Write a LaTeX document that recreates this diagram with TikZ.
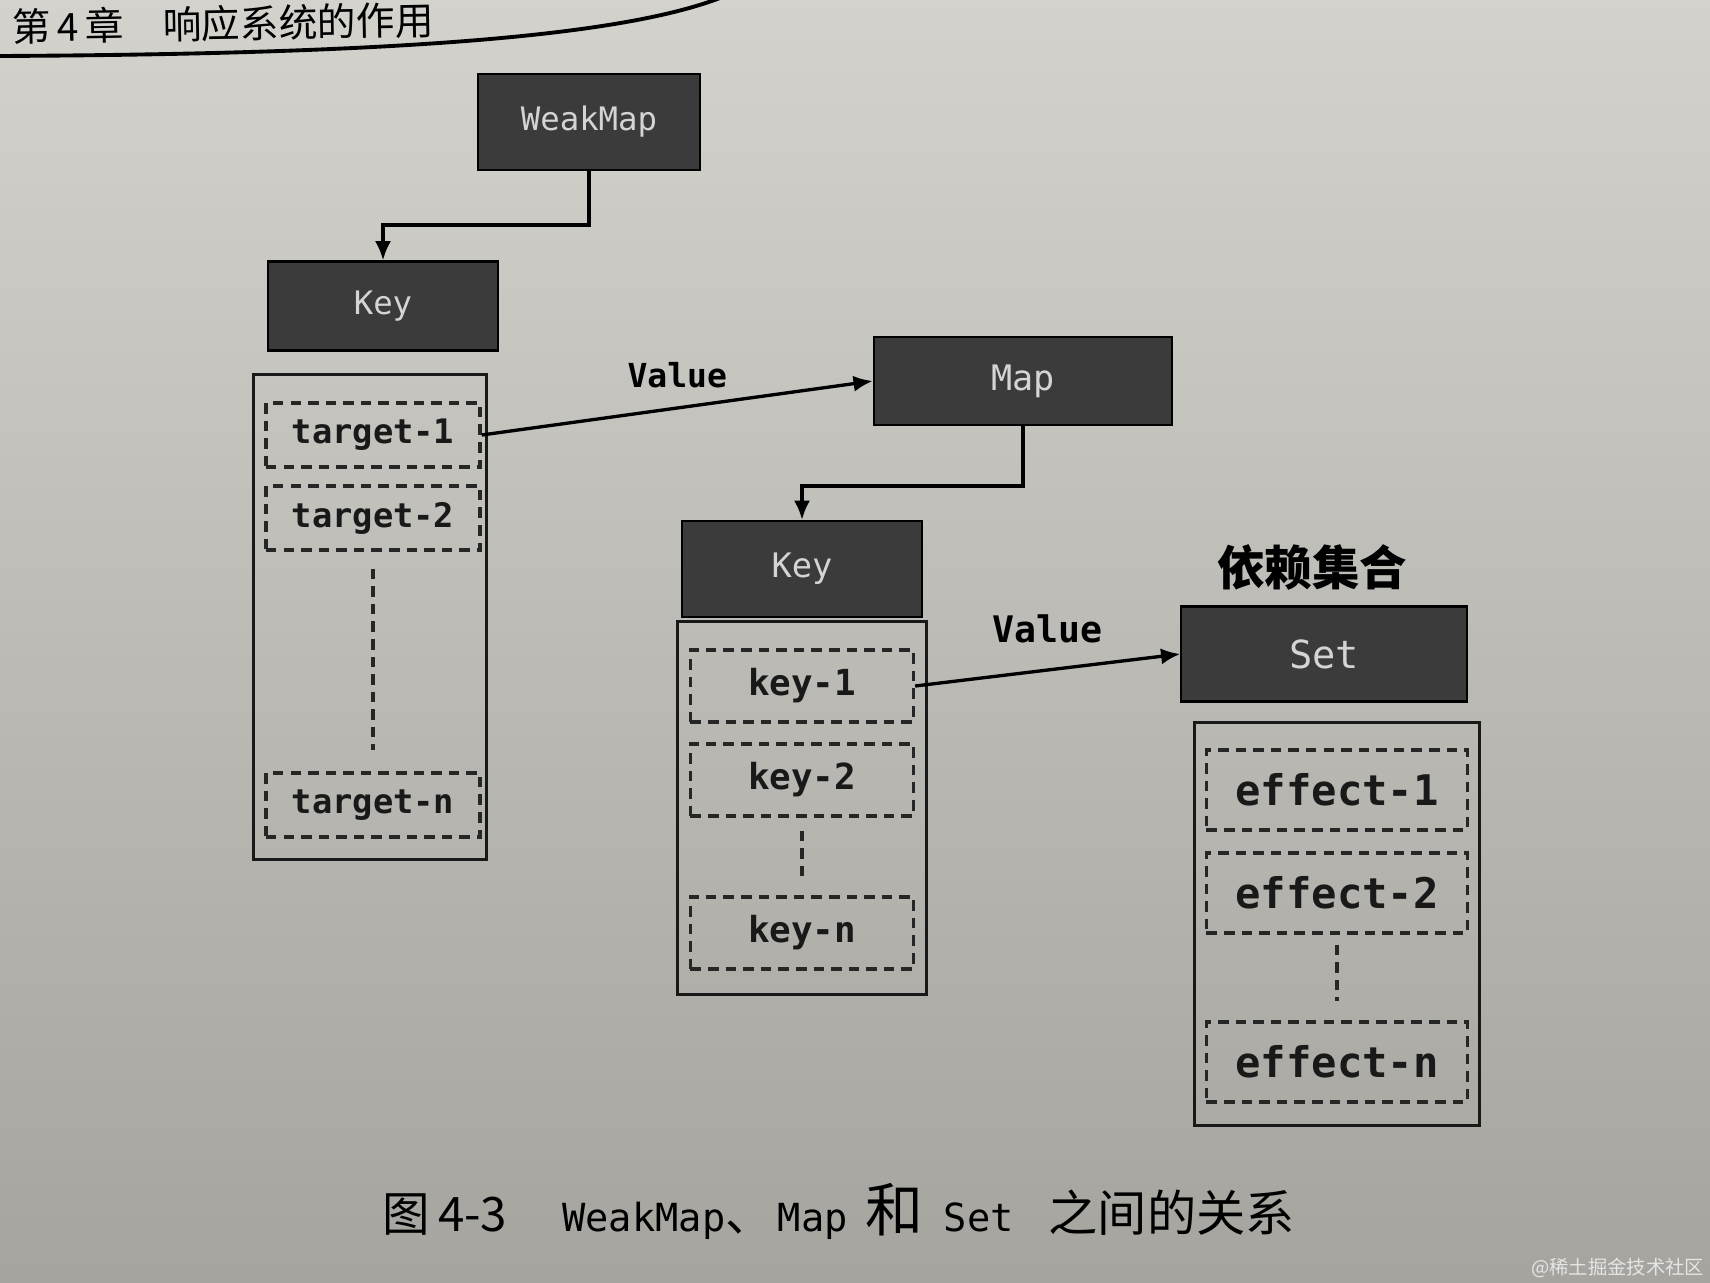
\documentclass[tikz,border=0pt]{standalone}
\usepackage{fontspec}
\setmonofont{DejaVu Sans Mono}
\newfontfamily\cjk{Noto Sans CJK SC}
\usetikzlibrary{arrows.meta}
\definecolor{paper}{HTML}{D3D2CD}
\definecolor{paperdark}{HTML}{A5A49F}
\definecolor{boxfill}{HTML}{3B3B3B}
\definecolor{boxtext}{HTML}{D4D4D4}
\tikzset{
  darkbox/.style={draw=black, fill=boxfill, text=boxtext, line width=.6pt, inner sep=0pt},
  listbox/.style={draw=black!90, line width=.8pt, inner sep=0pt},
  item/.style={draw=black!85, line width=.9pt, dash pattern=on 3pt off 2pt, inner sep=0pt, text=black!90},
  dots/.style={draw=black!85, line width=.9pt, dash pattern=on 3pt off 2pt},
  link/.style={->, line width=.95pt},
}
\newcommand{\mono}[1]{\ttfamily\fontsize{#1}{#1}\selectfont}
\newcommand{\monob}[1]{\ttfamily\bfseries\fontsize{#1}{#1}\selectfont}
\newcommand{\cjks}[1]{\cjk\fontsize{#1}{#1}\selectfont}

\begin{document}
\begin{tikzpicture}[x=.01cm, y=-.01cm, >={Latex[length=5.5pt,width=4.6pt]}]
\useasboundingbox (0,0) rectangle (1710,1282);
\shade[shading angle=-35, top color=paper, bottom color=paperdark] (0,0) rectangle (1710,1282);

% page header
\draw[line width=1.1pt] (0,56) .. controls (400,54) and (620,36) .. (720,-2);
\node[anchor=base west, rotate=1, inner sep=0pt, font=\cjks{11}] (header) at (12,42) {第\,4\,章\quad 响应系统的作用};

% dark boxes
\node[darkbox, minimum width=2.22cm, minimum height=.96cm, font=\mono{9.2}] (weakmap) at (589,122) {WeakMap};
\node[darkbox, minimum width=2.30cm, minimum height=.89cm, font=\mono{9.2}] (tkey) at (383,306) {Key};
\node[darkbox, minimum width=2.98cm, minimum height=.88cm, font=\mono{10}] (map) at (1023,381) {Map};
\node[darkbox, minimum width=2.39cm, minimum height=.96cm, font=\mono{9.6}] (mkey) at (802,569) {Key};
\node[darkbox, minimum width=2.85cm, minimum height=.95cm, font=\mono{11}] (set) at (1324,654) {Set};
\node[font=\cjk\bfseries\fontsize{13.5}{15}\selectfont] (deps) at (1312,567) {依赖集合};

% lists
\node[listbox, minimum width=2.33cm, minimum height=4.85cm] (tlist) at (370,617) {};
\node[listbox, minimum width=2.49cm, minimum height=3.73cm] (klist) at (802,808) {};
\node[listbox, minimum width=2.85cm, minimum height=4.03cm] (elist) at (1337,924) {};

\foreach \n/\t/\y in {t1/target-1/435, t2/target-2/518, tn/target-n/805}
  \node[item, minimum width=2.14cm, minimum height=.64cm, font=\monob{9.6}] (\n) at (373,\y) {\t};
\foreach \n/\t/\y in {k1/key-1/686, k2/key-2/780, kn/key-n/933}
  \node[item, minimum width=2.23cm, minimum height=.72cm, font=\monob{10.2}] (\n) at (802,\y) {\t};
\foreach \n/\t/\y in {e1/effect-1/790, e2/effect-2/893, en/effect-n/1062}
  \node[item, minimum width=2.61cm, minimum height=.80cm, font=\monob{12}] (\n) at (1337,\y) {\t};

\draw[dots] ([yshift=-.17cm]t2.south) -- ([yshift=.21cm]tn.north);
\draw[dots] ([yshift=-.13cm]k2.south) -- ([yshift=.14cm]kn.north);
\draw[dots] ([yshift=-.10cm]e2.south) -- ([yshift=.19cm]en.north);

% connectors
\draw[link] (weakmap.south) -- ++(0,54) -| (tkey.north);
\draw[link] (map.south) -- ++(0,60) -| (mkey.north);
\draw[link] (t1.east) -- node[above=2pt, font=\monob{9.4}] (val1) {Value} (map.west);
\draw[link] (k1.east) -- node[above=4pt, font=\monob{10.4}] (val2) {Value} (set.west);

% caption
\node[anchor=west, inner sep=0pt] (caption) at (382,1211)
  {{\cjks{13.5}图\,4-3}\hspace{.55cm}{\mono{11}WeakMap}{\cjks{13.5}、}\hspace{.05cm}{\mono{11}Map}\hspace{.18cm}{\cjks{16.5}和}\hspace{.2cm}{\mono{11}Set}\hspace{.35cm}{\cjks{14}之间的关系}};
\node[anchor=east, inner sep=0pt, text=white!80!gray, font=\cjks{5.5}] (mark) at (1705,1268) {@稀土掘金技术社区};
\end{tikzpicture}
\end{document}
